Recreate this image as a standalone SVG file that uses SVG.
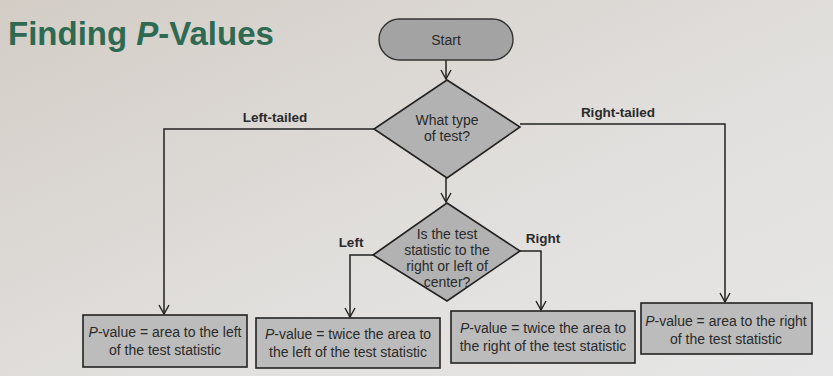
<svg xmlns="http://www.w3.org/2000/svg" width="833" height="376" viewBox="0 0 833 376">
<defs>
<linearGradient id="bg" x1="0" y1="0" x2="1" y2="1">
<stop offset="0" stop-color="#d3cdc6"/>
<stop offset="0.6" stop-color="#e2e0de"/>
<stop offset="1" stop-color="#e6e6e6"/>
</linearGradient>
<marker id="ah" viewBox="0 0 12 12" refX="10" refY="6" markerWidth="12" markerHeight="12" markerUnits="userSpaceOnUse" orient="auto">
<path d="M1 1 L10 6 L1 11" fill="none" stroke="#222" stroke-width="1.4"/>
</marker>
</defs>
<style>
.t{font-family:"Liberation Sans",Arial,sans-serif;fill:#2a2a2a;text-anchor:middle}
.n{font-size:14px}
.lb{font-size:13.5px;font-weight:bold}
.box{fill:#bcbcbc;stroke:#222;stroke-width:1.6}
.dia{fill:#b2b2b2;stroke:#222;stroke-width:1.6}
.c{fill:none;stroke:#222;stroke-width:1.5}
</style>
<rect width="833" height="376" fill="url(#bg)"/>
<text x="8" y="45" font-family="'Liberation Sans',Arial,sans-serif" font-size="33" font-weight="bold" fill="#2e6a52">Finding <tspan font-style="italic">P</tspan>-Values</text>

<g id="connectors">
<path class="c" d="M446 60 V79" marker-end="url(#ah)"/>
<path class="c" d="M446 178 V202" marker-end="url(#ah)"/>
<path class="c" d="M374 129 H164 V314" marker-end="url(#ah)"/>
<path class="c" d="M520 124 H725 V302" marker-end="url(#ah)"/>
<path class="c" d="M373 255 H350 V317" marker-end="url(#ah)"/>
<path class="c" d="M520 251 H541 V310" marker-end="url(#ah)"/>
<text class="t lb" x="275" y="122">Left-tailed</text>
<text class="t lb" x="618" y="117">Right-tailed</text>
<text class="t lb" x="351" y="247">Left</text>
<text class="t lb" x="543" y="243">Right</text>
</g>

<g id="start">
<rect x="379" y="19" width="134" height="41" rx="20.5" fill="#a3a3a3" stroke="#333" stroke-width="1.4"/>
<text class="t n" x="446" y="45">Start</text>
</g>

<g id="q1">
<polygon class="dia" points="447,80 520,127 447,178 374,129"/>
<text class="t n" x="447" y="125">What type</text>
<text class="t n" x="447" y="141">of test?</text>
</g>

<g id="q2">
<polygon class="dia" points="447,203 520,251 447,301 373,255"/>
<text class="t n" x="447" y="239">Is the test</text>
<text class="t n" x="447" y="255">statistic to the</text>
<text class="t n" x="447" y="271">right or left of</text>
<text class="t n" x="447" y="287">center?</text>
</g>

<g id="box1">
<rect class="box" x="83" y="315" width="164" height="52"/>
<text class="t n" x="165" y="337"><tspan font-style="italic">P</tspan>-value = area to the left</text>
<text class="t n" x="165" y="355">of the test statistic</text>
</g>

<g id="box2">
<rect class="box" x="256" y="318" width="184" height="50"/>
<text class="t n" x="348" y="339"><tspan font-style="italic">P</tspan>-value = twice the area to</text>
<text class="t n" x="348" y="357">the left of the test statistic</text>
</g>

<g id="box3">
<rect class="box" x="451" y="311" width="184" height="52"/>
<text class="t n" x="543" y="333"><tspan font-style="italic">P</tspan>-value = twice the area to</text>
<text class="t n" x="543" y="351">the right of the test statistic</text>
</g>

<g id="box4">
<rect class="box" x="641" y="303" width="171" height="51"/>
<text class="t n" x="726" y="326"><tspan font-style="italic">P</tspan>-value = area to the right</text>
<text class="t n" x="726" y="344">of the test statistic</text>
</g>
</svg>
